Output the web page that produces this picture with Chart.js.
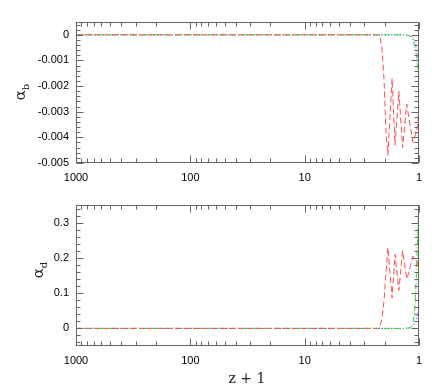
<!DOCTYPE html>
<html>
<head>
<meta charset="utf-8">
<script src="https://cdn.jsdelivr.net/npm/chart.js@4.4.1/dist/chart.umd.min.js"></script>
<style>
  body { margin: 0; background: #fff; }
  #wrap { position: relative; width: 443px; height: 388px; overflow: hidden; }
  canvas { position: absolute; left: 0; }
  .ytitle { position: absolute; font-family: "DejaVu Serif", "Liberation Serif", serif; font-size: 15px; color: #222;
            transform: translate(-50%, -50%) rotate(-90deg); white-space: nowrap; }
  .ytitle sub { font-size: 10px; }
  #xtitle { position: absolute; left: 247px; top: 378px; transform: translate(-50%, -50%);
            font-family: "DejaVu Serif", "Liberation Serif", serif; font-size: 14px; color: #222; white-space: nowrap; }
</style>
</head>
<body>
<div id="wrap">
  <canvas id="topChart" width="443" height="190" style="top:0"></canvas>
  <canvas id="bottomChart" width="443" height="198" style="top:190px"></canvas>
  <div class="ytitle" style="left:21px; top:92px">α<sub>b</sub></div>
  <div class="ytitle" style="left:39px; top:270px">α<sub>d</sub></div>
  <div id="xtitle">z + 1</div>
</div>
<script>
// x axis: z + 1 (log, reversed)
const zTicks = [1000, 100, 10, 1];

// red dashed curve
const redZ      = [1000, 100, 10, 3, 2.28, 2.2, 2.1, 2.02, 1.94, 1.87, 1.72, 1.62, 1.50, 1.39, 1.28, 1.25, 1.13, 1.04, 1.0];
const redAlphaB = [0, 0, 0, 0, 0, -0.00005, -0.0006, -0.0018, -0.0039, -0.0047, -0.0017, -0.0043, -0.0022, -0.0044, -0.0027, -0.0030, -0.0042, -0.0037, -0.0029];
const redAlphaD = [0, 0, 0, 0, 0, 0.005, 0.03, 0.08, 0.16, 0.23, 0.086, 0.21, 0.108, 0.22, 0.14, 0.15, 0.205, 0.19, 0.16];

// green dash-dot curve
const greenZ      = [1000, 100, 10, 1.33, 1.2, 1.16, 1.13, 1.1, 1.08, 1.05, 1.03, 1.01, 1.0];
const greenAlphaB = [0, 0, 0, 0, -0.00005, -0.0001, -0.0002, -0.0004, -0.0005, -0.0009, -0.0012, -0.0015, -0.0017];
const greenAlphaD = [0, 0, 0, 0, 0.001, 0.005, 0.012, 0.04, 0.075, 0.165, 0.255, 0.33, 0.35];

// blue dotted curve
const blueZ      = [1000, 100, 10, 1.33, 1.2, 1.13, 1.08, 1.04, 1.0];
const blueAlphaB = [0, 0, 0, 0, -0.00003, -0.0001, -0.0003, -0.0007, -0.0012];
const blueAlphaD = [0, 0, 0, 0, 0.002, 0.008, 0.018, 0.033, 0.052];

// y ticks
const alphaBTicks  = [0, -0.001, -0.002, -0.003, -0.004, -0.005];
const alphaBLabels = ['0', '-0.001', '-0.002', '-0.003', '-0.004', '-0.005'];
const alphaDTicks  = [0, 0.1, 0.2, 0.3];
const alphaDLabels = ['0', '0.1', '0.2', '0.3'];

const tickFont = { family: '"Liberation Sans", Arial, sans-serif', size: 11 };

function pts(xs, ys) {
    return xs.map((x, i) => ({ x: x, y: ys[i] }));
}

// frame + inward ticks on all four sides
const frameTicks = {
    id: 'frameTicks',
    afterDatasetsDraw(chart, args, opts) {
        const { ctx, chartArea: a, scales: { x, y } } = chart;
        const L = Math.round(a.left) + 0.5, R = Math.round(a.right) - 0.5;
        const T = Math.round(a.top) + 0.5, B = Math.round(a.bottom) - 0.5;
        ctx.save();
        ctx.strokeStyle = '#666';
        ctx.lineWidth = 1;
        ctx.setLineDash([]);
        ctx.strokeRect(L, T, R - L, B - T);
        ctx.beginPath();
        // x ticks (log decades)
        for (let k = 0; k <= 3; k++) {
            for (let m = 1; m <= 9; m++) {
                const v = m * Math.pow(10, k);
                if (v > 1000) break;
                const px = Math.round(x.getPixelForValue(v)) + 0.5;
                const len = m === 1 ? 7 : 4;
                ctx.moveTo(px, B); ctx.lineTo(px, B - len);
                ctx.moveTo(px, T); ctx.lineTo(px, T + len);
            }
        }
        // y ticks
        const step = opts.minorStep;
        const i0 = Math.ceil(y.min / step - 1e-9), i1 = Math.floor(y.max / step + 1e-9);
        for (let i = i0; i <= i1; i++) {
            const py = Math.round(y.getPixelForValue(i * step)) + 0.5;
            const len = i % 5 === 0 ? 7 : 4;
            ctx.moveTo(L, py); ctx.lineTo(L + len, py);
            ctx.moveTo(R, py); ctx.lineTo(R - len, py);
        }
        ctx.stroke();
        ctx.restore();
    }
};

function makeChart(id, yMin, yMax, yTicks, yLabels, minorStep, padTop, xHeight, red, green, blue) {
    return new Chart(document.getElementById(id), {
        type: 'line',
        data: {
            datasets: [
                { data: pts(redZ, red), borderColor: '#ff5050', borderDash: [6, 3] },
                { data: pts(greenZ, green), borderColor: '#30dd30', borderDash: [6, 2, 1, 2] },
                { data: pts(blueZ, blue), borderColor: '#4848ff', borderDash: [1, 2] }
            ]
        },
        options: {
            responsive: false,
            animation: false,
            layout: { padding: { top: padTop, right: 24, left: 0, bottom: 0 } },
            elements: { point: { radius: 0 }, line: { borderWidth: 1, tension: 0 } },
            plugins: { legend: { display: false }, tooltip: { enabled: false }, frameTicks: { minorStep: minorStep } },
            scales: {
                x: {
                    type: 'logarithmic', min: 1, max: 1000, reverse: true,
                    grid: { display: false, drawTicks: false }, border: { display: false },
                    afterBuildTicks: s => { s.ticks = zTicks.map(v => ({ value: v })); },
                    afterFit: s => { s.height = xHeight; },
                    ticks: { callback: v => String(v), autoSkip: false, maxRotation: 0, padding: 8, color: '#000', font: tickFont }
                },
                y: {
                    type: 'linear', min: yMin, max: yMax,
                    grid: { display: false, drawTicks: false }, border: { display: false },
                    afterBuildTicks: s => { s.ticks = yTicks.map(v => ({ value: v })); },
                    afterFit: s => { s.width = 76; },
                    ticks: { callback: (v, i) => yLabels[i], padding: 7, color: '#000', font: tickFont }
                }
            }
        },
        plugins: [frameTicks]
    });
}

makeChart('topChart', -0.005, 0.0005, alphaBTicks, alphaBLabels, 0.0002, 22, 27, redAlphaB, greenAlphaB, blueAlphaB);
makeChart('bottomChart', -0.05, 0.35, alphaDTicks, alphaDLabels, 0.02, 15, 42, redAlphaD, greenAlphaD, blueAlphaD);
</script>
</body>
</html>
